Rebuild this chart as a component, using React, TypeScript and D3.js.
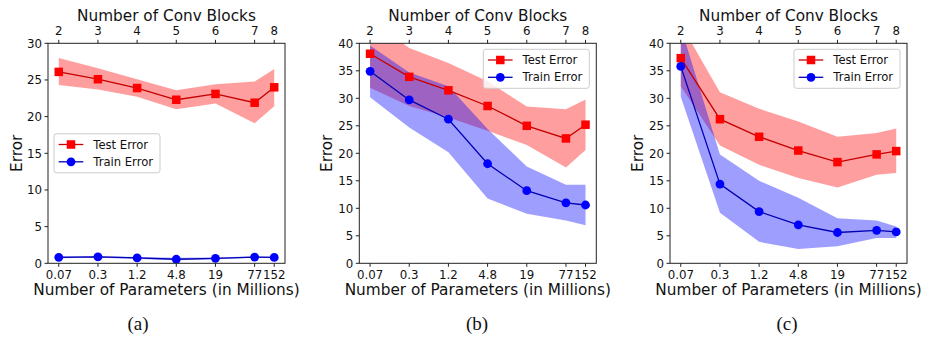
import React from "react";
import * as d3 from "d3";

const params = [0.075, 0.3, 1.2, 4.8, 19.2, 76.8, 153.6];
const paramLabels = ["0.07", "0.3", "1.2", "4.8", "19", "77", "152"];
const blockLabels = ["2", "3", "4", "5", "6", "7", "8"];

const testA = [26.1, 25.1, 23.9, 22.3, 23.1, 21.9, 24.0];
const testAUpper = [28.0, 26.6, 25.1, 23.6, 24.4, 24.8, 26.5];
const testALower = [24.3, 23.7, 22.7, 21.0, 21.8, 19.1, 21.4];
const trainA = [0.82, 0.88, 0.73, 0.55, 0.68, 0.85, 0.8];
const trainAUpper = [0.95, 1.0, 0.85, 0.75, 0.8, 0.95, 0.9];
const trainALower = [0.7, 0.75, 0.6, 0.4, 0.55, 0.75, 0.7];

const testB = [38.1, 33.9, 31.45, 28.6, 25.0, 22.7, 25.2];
const testBUpper = [44.3, 39.15, 36.4, 33.1, 28.5, 28.0, 29.8];
const testBLower = [31.9, 28.6, 26.5, 24.1, 21.5, 17.4, 20.6];
const trainB = [34.9, 29.7, 26.2, 18.1, 13.2, 11.0, 10.6];
const trainBUpper = [39.6, 34.7, 32.2, 24.4, 17.6, 14.3, 14.3];
const trainBLower = [30.2, 24.7, 20.2, 11.8, 9.0, 7.8, 6.9];

const testC = [37.3, 26.2, 23.0, 20.5, 18.4, 19.8, 20.4];
const testCUpper = [43.5, 31.1, 28.1, 25.8, 23.0, 23.7, 24.5];
const testCLower = [32.2, 21.4, 17.9, 15.5, 13.8, 16.1, 16.4];
const trainC = [35.8, 14.4, 9.4, 7.0, 5.6, 6.0, 5.7];
const trainCUpper = [43.0, 19.8, 15.0, 11.9, 8.2, 7.8, 6.7];
const trainCLower = [30.3, 9.2, 3.9, 2.6, 3.1, 4.6, 4.6];

const yTicksA = [0, 5, 10, 15, 20, 25, 30];
const yTicksBC = [0, 5, 10, 15, 20, 25, 30, 35, 40];

const FONT = "DejaVu Sans, sans-serif";
const RED_LINE = "#c40000";
const RED_MARK = "#ff0000";
const BLUE_LINE = "#0000b4";
const BLUE_MARK = "#0000ff";

type PanelProps = {
  id: string;
  left: number;
  yMax: number;
  yTicks: number[];
  test: number[];
  testUp: number[];
  testLo: number[];
  train: number[];
  trainUp: number[];
  trainLo: number[];
  legendPos: "centerLeft" | "upperRight";
  caption: string;
  captionX: number;
  ylabelX: number;
};

const TOP = 43.3;
const BOTTOM = 263.3;
const W = 237;
const TICK_FS = 11.8;

function Panel(p: PanelProps) {
  const right = p.left + W;
  const span = W / 1.1;
  const pad = (W - span) / 2;
  const x = d3.scaleLog().domain([params[0], params[params.length - 1]]).range([p.left + pad, right - pad]);
  const y = d3.scaleLinear().domain([0, p.yMax]).range([BOTTOM, TOP]);
  const line = d3.line<number>().x((_, i) => x(params[i])).y((d) => y(d));
  const area = (up: number[], lo: number[]) =>
    d3.area<number>().x((_, i) => x(params[i])).y0((_, i) => y(lo[i])).y1((_, i) => y(up[i]))(params.map((_, i) => i)) as string;

  const legW = 106;
  const legH = 39;
  const lx = p.legendPos === "centerLeft" ? p.left + 6 : right - 7 - legW;
  const ly = p.legendPos === "centerLeft" ? (TOP + BOTTOM) / 2 - legH / 2 : TOP + 6;
  const cx = (p.left + right) / 2;
  const ms = 8.5;

  return (
    <g>
      <defs>
        <clipPath id={`clip-${p.id}`}>
          <rect x={p.left} y={TOP} width={W} height={BOTTOM - TOP} />
        </clipPath>
      </defs>
      <g clipPath={`url(#clip-${p.id})`}>
        <path d={area(p.testUp, p.testLo)} fill="#ff0000" fillOpacity={0.38} />
        <path d={area(p.trainUp, p.trainLo)} fill="#0000ff" fillOpacity={0.38} />
        <path d={line(p.test) as string} fill="none" stroke={RED_LINE} strokeWidth={1.3} />
        {p.test.map((v, i) => (
          <rect key={i} x={x(params[i]) - ms / 2} y={y(v) - ms / 2} width={ms} height={ms} fill={RED_MARK} />
        ))}
        <path d={line(p.train) as string} fill="none" stroke={BLUE_LINE} strokeWidth={1.3} />
        {p.train.map((v, i) => (
          <circle key={i} cx={x(params[i])} cy={y(v)} r={4.4} fill={BLUE_MARK} />
        ))}
      </g>
      <rect x={p.left} y={TOP} width={W} height={BOTTOM - TOP} fill="none" stroke="#222" strokeWidth={1} />
      {p.yTicks.map((t) => (
        <g key={t}>
          <line x1={p.left - 3.5} x2={p.left} y1={y(t)} y2={y(t)} stroke="#222" strokeWidth={1} />
          <text x={p.left - 6} y={y(t)} dy="0.36em" textAnchor="end" fontSize={TICK_FS} fontFamily={FONT} fill="#111">
            {t}
          </text>
        </g>
      ))}
      {params.map((v, i) => (
        <g key={i}>
          <line x1={x(v)} x2={x(v)} y1={BOTTOM} y2={BOTTOM + 3.5} stroke="#222" strokeWidth={1} />
          <text x={x(v)} y={BOTTOM + 16} textAnchor="middle" fontSize={TICK_FS} fontFamily={FONT} fill="#111">
            {paramLabels[i]}
          </text>
          <line x1={x(v)} x2={x(v)} y1={TOP} y2={TOP - 3.5} stroke="#222" strokeWidth={1} />
          <text x={x(v)} y={TOP - 8} textAnchor="middle" fontSize={TICK_FS} fontFamily={FONT} fill="#111">
            {blockLabels[i]}
          </text>
        </g>
      ))}
      <text x={cx} y={21} textAnchor="middle" fontSize={15.3} fontFamily={FONT} fill="#111">
        Number of Conv Blocks
      </text>
      <text x={cx} y={295} textAnchor="middle" fontSize={15.3} fontFamily={FONT} fill="#111">
        Number of Parameters (in Millions)
      </text>
      <text
        transform={`translate(${p.ylabelX},${(TOP + BOTTOM) / 2}) rotate(-90)`}
        textAnchor="middle"
        dy="0.35em"
        fontSize={15.3}
        fontFamily={FONT}
        fill="#111"
      >
        Error
      </text>
      <text x={p.captionX} y={330} textAnchor="middle" fontSize={19} fontFamily="Liberation Serif, Times New Roman, serif" fill="#111">
        {p.caption}
      </text>
      <rect x={lx} y={ly} width={legW} height={legH} rx={2.5} fill="#fff" fillOpacity={0.8} stroke="#cccccc" strokeWidth={1} />
      <line x1={lx + 4.7} x2={lx + 29.3} y1={ly + 10.7} y2={ly + 10.7} stroke={RED_LINE} strokeWidth={1.3} />
      <rect x={lx + 17 - ms / 2} y={ly + 10.7 - ms / 2} width={ms} height={ms} fill={RED_MARK} />
      <text x={lx + 39.3} y={ly + 10.7} dy="0.36em" fontSize={11.6} fontFamily={FONT} fill="#111">
        Test Error
      </text>
      <line x1={lx + 4.7} x2={lx + 29.3} y1={ly + 28} y2={ly + 28} stroke={BLUE_LINE} strokeWidth={1.3} />
      <circle cx={lx + 17} cy={ly + 28} r={4.4} fill={BLUE_MARK} />
      <text x={lx + 39.3} y={ly + 28} dy="0.36em" fontSize={11.6} fontFamily={FONT} fill="#111">
        Train Error
      </text>
    </g>
  );
}

export default function App() {
  return (
    <svg width={925} height={338} style={{ position: "absolute", left: 0, top: 0, background: "#fff" }}>
      <rect width={925} height={338} fill="#fff" />
      <Panel
        id="a"
        left={48}
        yMax={30}
        yTicks={yTicksA}
        test={testA}
        testUp={testAUpper}
        testLo={testALower}
        train={trainA}
        trainUp={trainAUpper}
        trainLo={trainALower}
        legendPos="centerLeft"
        caption="(a)"
        captionX={138}
        ylabelX={17}
      />
      <Panel
        id="b"
        left={359.3}
        yMax={40}
        yTicks={yTicksBC}
        test={testB}
        testUp={testBUpper}
        testLo={testBLower}
        train={trainB}
        trainUp={trainBUpper}
        trainLo={trainBLower}
        legendPos="upperRight"
        caption="(b)"
        captionX={477}
        ylabelX={327}
      />
      <Panel
        id="c"
        left={670}
        yMax={40}
        yTicks={yTicksBC}
        test={testC}
        testUp={testCUpper}
        testLo={testCLower}
        train={trainC}
        trainUp={trainCUpper}
        trainLo={trainCLower}
        legendPos="upperRight"
        caption="(c)"
        captionX={787}
        ylabelX={638}
      />
    </svg>
  );
}
